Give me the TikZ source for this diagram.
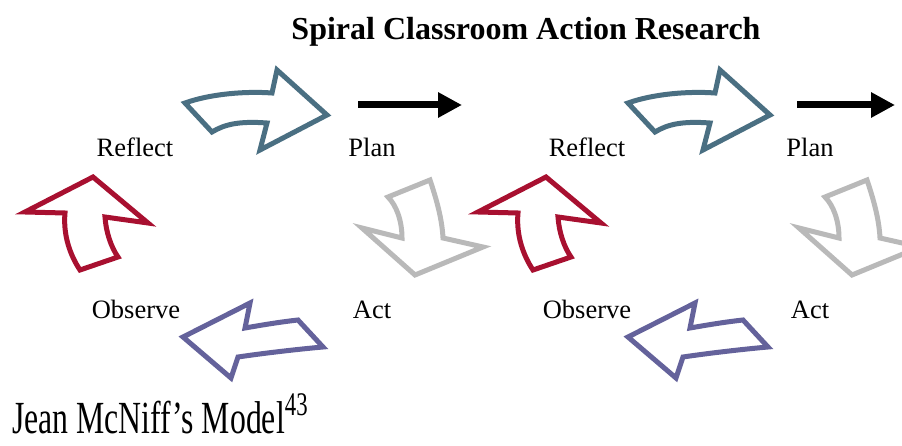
\documentclass[tikz,border=0pt]{standalone}
\usepackage{fontspec}
\setmainfont{Liberation Serif}
\usetikzlibrary{arrows.meta}
\definecolor{reflectblue}{RGB}{74,111,130}
\definecolor{plangray}{RGB}{185,185,185}
\definecolor{actpurple}{RGB}{100,98,155}
\definecolor{observered}{RGB}{168,16,48}
\newcommand{\rim}{5pt}
\newcommand{\stagefont}{\fontsize{26.5}{30}\selectfont}
\tikzset{
  stage/.style={font=\stagefont, inner sep=0pt, anchor=base},
  nextloop/.style={line width=7pt, -{Triangle[length=24pt,width=24pt]}},
  bentarrow/.style={line width=\rim, fill=white, draw=#1},
  % reflect -> plan, pointing right
  reflectplan/.pic={
    \draw[bentarrow=reflectblue] (-71,-7) .. controls (-46,-16) and (-11,-19) .. (16,-17)
      -- (21,-40) -- (71,5) -- (4,40) -- (11,13)
      .. controls (-16,11) and (-31,14) .. (-44,22) -- cycle;
  },
  % plan -> act, pointing down
  planact/.pic={
    \draw[bentarrow=plangray] (-34,-31) -- (8,-48)
      .. controls (14,-30) and (20,-10) .. (21,10)
      -- (61,19) -- (-7,47) -- (-60,0) -- (-20,10)
      .. controls (-20,-8) and (-26,-23) .. cycle;
  },
  % act -> observe, pointing left
  actobserve/.pic={
    \draw[bentarrow=actpurple] (-70,-3) -- (-3,-37) -- (-8,-12)
      .. controls (9,-15) and (27,-18) .. (45,-20)
      -- (70,7) .. controls (47,9) and (12,13) .. (-15,17)
      -- (-22,38) -- cycle;
  },
  % observe -> reflect, pointing up
  observereflect/.pic={
    \draw[bentarrow=observered] (6,-48) -- (61,-2) -- (18,-8)
      .. controls (19,7) and (24,22) .. (31,32)
      -- (-7,45) .. controls (-17,30) and (-24,10) .. (-22,-12)
      -- (-62,-13) -- cycle;
  }
}

\begin{document}
\begin{tikzpicture}[x=1pt, y=-1pt]
\useasboundingbox (0,0) rectangle (902,446);
\node[font=\fontsize{32}{36}\selectfont\bfseries, inner sep=0pt, anchor=base] (title) at (526,40) {Spiral Classroom Action Research};
%first loop
\node[stage] (reflect1) at (135,157) {Reflect};
\node[stage] (plan1) at (372,157) {Plan};
\node[stage] (observe1) at (136,319) {Observe};
\node[stage] (act1) at (372,319) {Act};
\pic at (256,110) {reflectplan};
\pic at (422,228) {planact};
\pic at (253,340) {actobserve};
\pic at (87,225) {observereflect};
\coordinate (out1) at (358,105);
\coordinate (in2) at (462,105);
\draw[nextloop] (out1) -- (in2);
%second loop
\node[stage] (reflect2) at (587,157) {Reflect};
\node[stage] (plan2) at (810,157) {Plan};
\node[stage] (observe2) at (587,319) {Observe};
\node[stage] (act2) at (810,319) {Act};
\pic at (699,110) {reflectplan};
\pic at (859,228) {planact};
\pic at (698,340) {actobserve};
\pic at (540,225) {observereflect};
\coordinate (out2) at (797,105);
\coordinate (in3) at (895,105);
\draw[nextloop] (out2) -- (in3);
\node[inner sep=0pt, anchor=base west] (model) at (12,433) {\scalebox{0.69}[1]{\fontsize{46}{50}\selectfont Jean McNiff’s Model\raisebox{18pt}{\fontsize{33}{36}\selectfont 43}}};
\end{tikzpicture}
\end{document}
